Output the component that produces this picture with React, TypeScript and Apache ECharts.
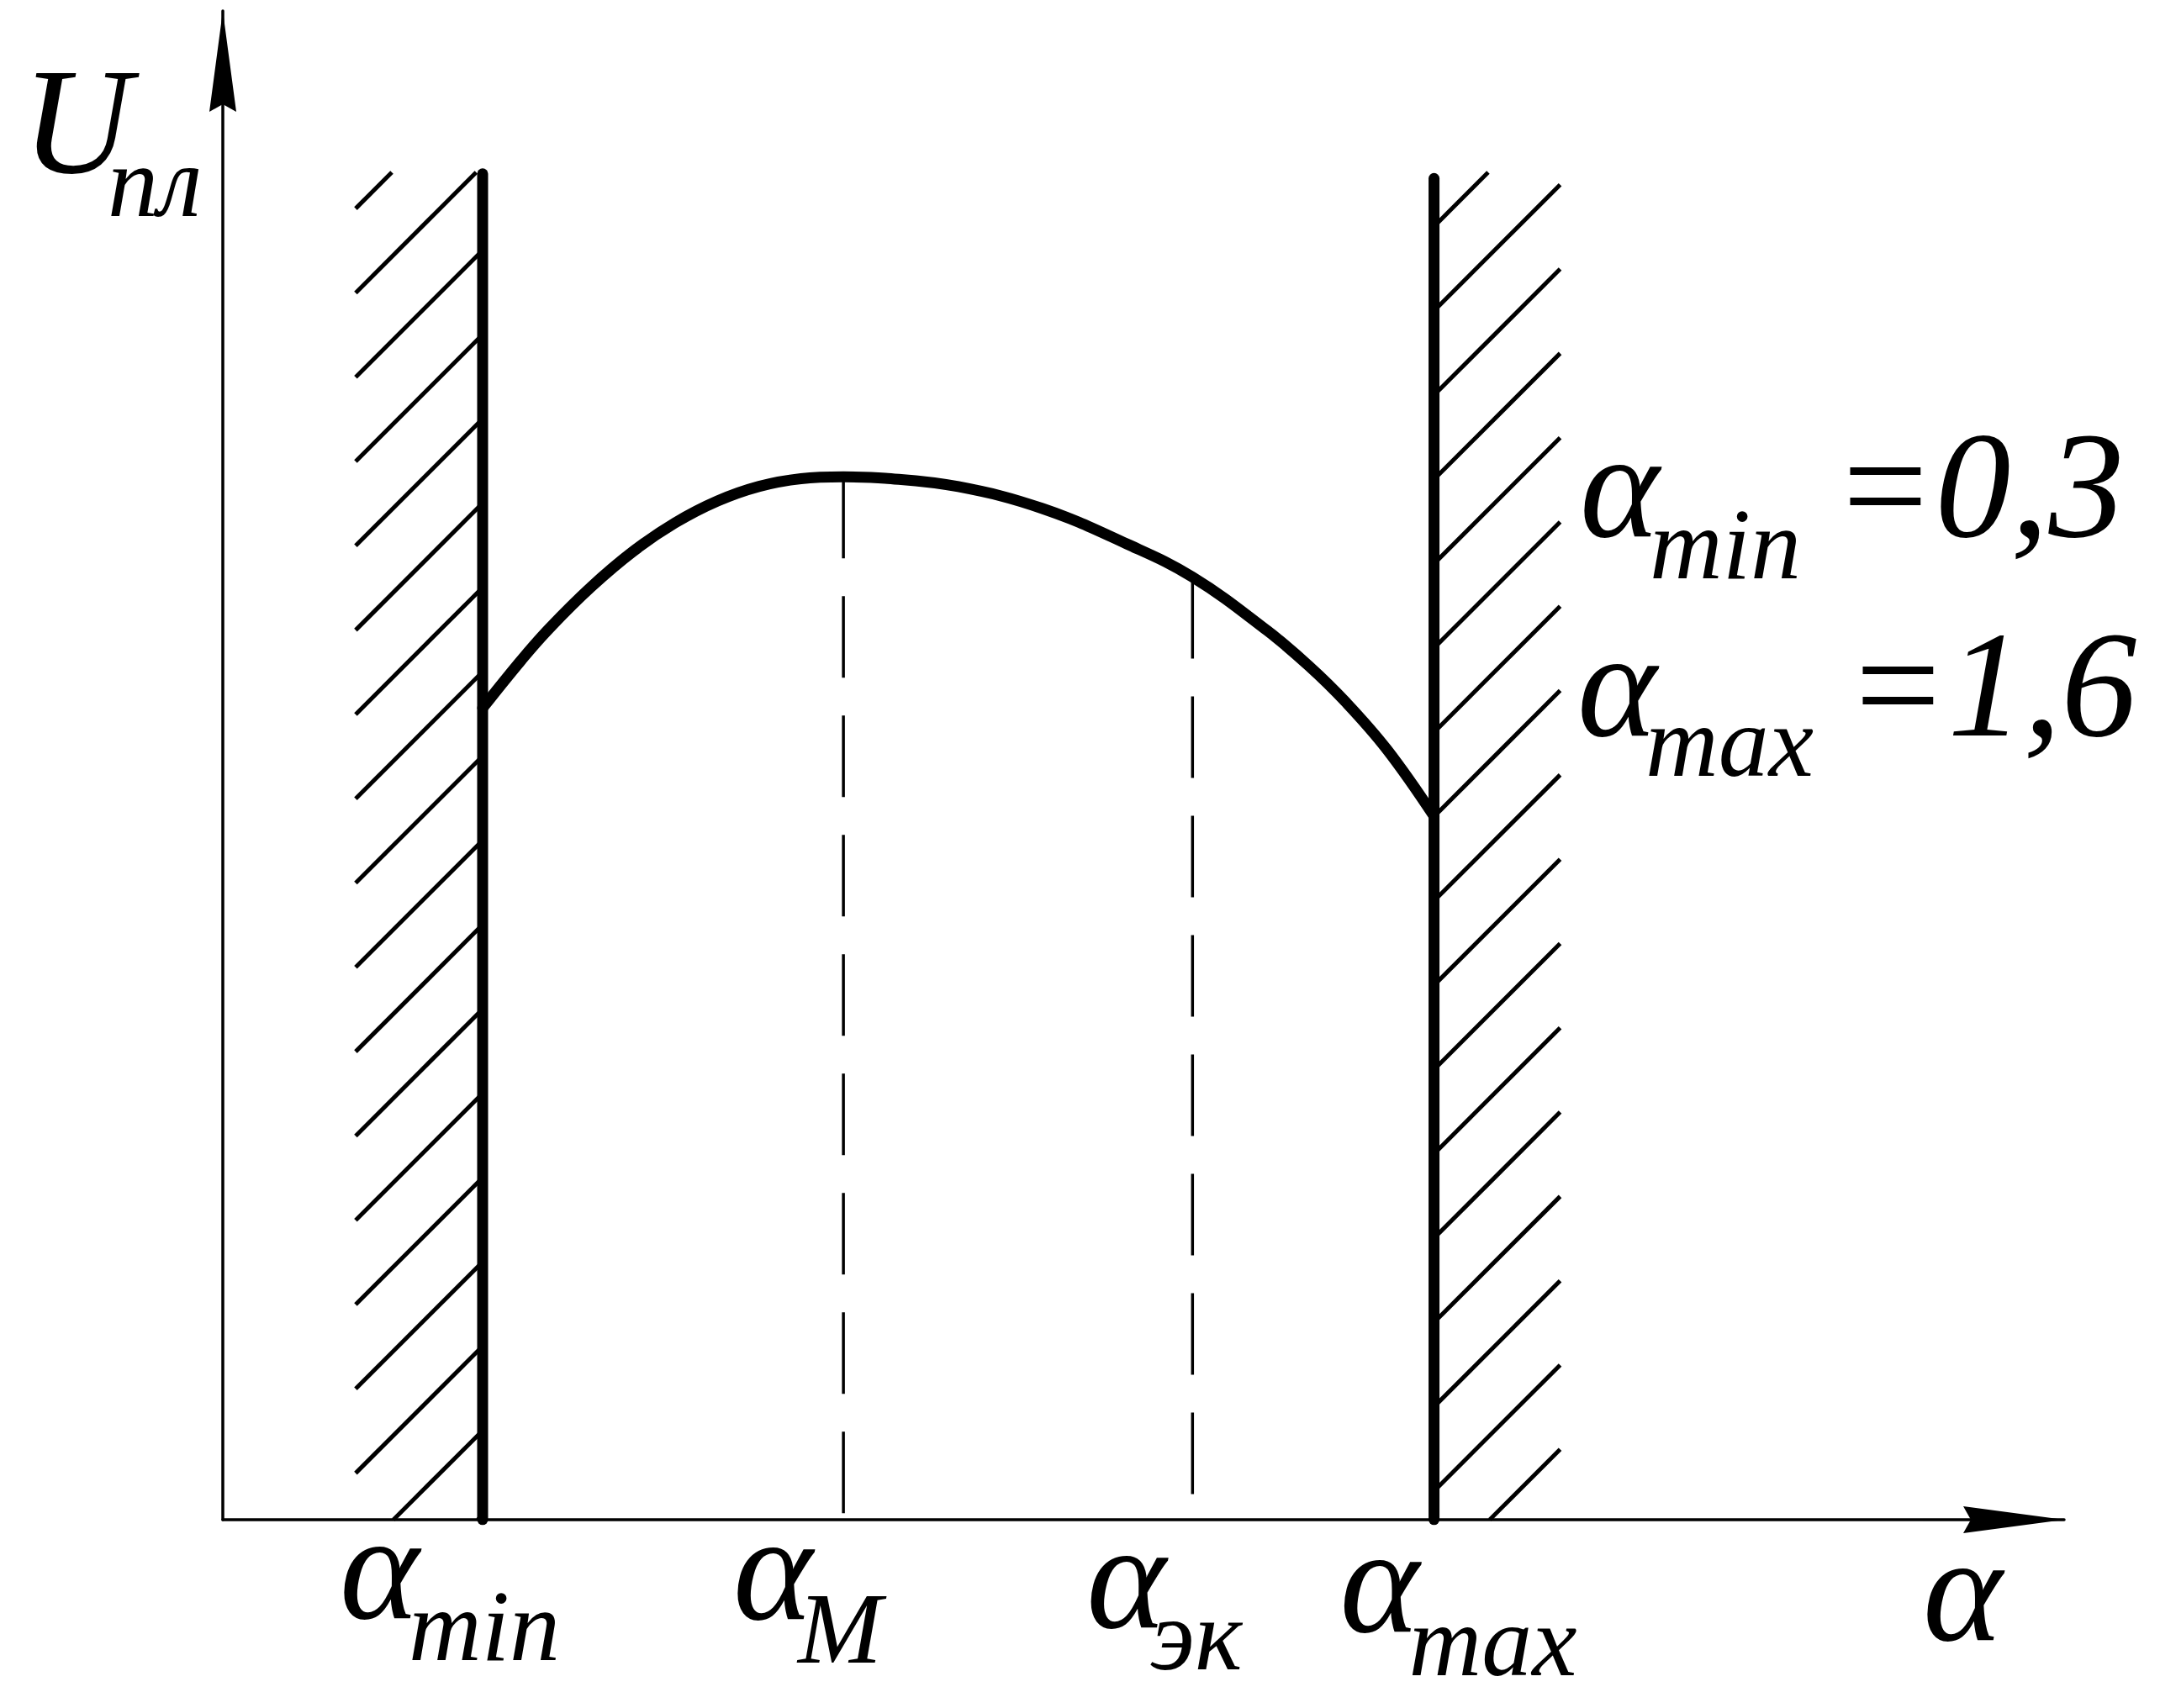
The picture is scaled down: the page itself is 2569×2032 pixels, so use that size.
import React, { useEffect, useRef } from "react";
import * as echarts from "echarts";

// ---------- data ----------
// α values along the curve U_пл(α) and the matching U_пл values (relative units)
const alphaCurve = [0.3, 0.353, 0.391, 0.448, 0.506, 0.563, 0.621, 0.678, 0.735, 0.793, 0.85, 0.95, 1.065, 1.18, 1.27, 1.372, 1.429, 1.479, 1.536, 1.6];
const uCurve = [0.538, 0.5698, 0.5907, 0.6181, 0.6419, 0.6607, 0.6752, 0.6849, 0.69, 0.6912, 0.6903, 0.6847, 0.6702, 0.6468, 0.6248, 0.5893, 0.5659, 0.5421, 0.5103, 0.4663];

// characteristic α values
const alphaMin = 0.3;
const alphaMax = 1.6;
const alphaM = 0.793;
const alphaEk = 1.27;

// heights of the two limit lines
const limitTops = [0.892, 0.889];
// hatched forbidden zones: [α from, α to, top]
const hatchZones = [
  [0.1265, 0.3, 0.893],
  [1.6, 1.7723, 0.893],
];

// axis ranges
const X_MIN = -0.055;
const X_MAX = 2.461;
const Y_MIN = 0;
const Y_MAX = 1;

// tick labels under the α axis
const tickMain = ["α", "α", "α", "α"];
const tickSub = ["min", "M", "эк", "max"];
const tickValues = [alphaMin, alphaM, alphaEk, alphaMax];

// annotation
const noteSub = ["min", "max"];
const noteValue = ["=0,3", "=1,6"];

// ---------- layout / style ----------
const W = 2569;
const H = 2032;
const FAMILY = "Liberation Serif";
const MAIN_FS = 180;
const SUB_FS = 120;
const HATCH_STEP = 100.3;
const HATCH_PHASE = 69.3;
// pixel offsets of tick labels relative to their tick
const tickMainDx = [-170, -131, -126, -112];
const tickMainBase = [1925, 1926, 1936, 1941];
const tickSubDx = [-88, -54, -50, -30];
const tickSubBase = [1975, 1978, 1986, 1993];

// a text placed by its left edge and its baseline
function txt(text: string, left: number, baseline: number, fs: number) {
  return {
    text,
    left,
    top: baseline - 0.8375 * fs,
    padding: 0,
    itemGap: 0,
    textStyle: {
      fontFamily: FAMILY,
      fontStyle: "italic",
      fontWeight: "normal",
      fontSize: fs,
      lineHeight: fs,
      color: "#000",
    },
  };
}

function hatchRender(params: any, api: any) {
  const x0 = api.value(0);
  const x1 = api.value(1);
  const top = api.value(2);
  const pBL = api.coord([x0, 0]);
  const pTR = api.coord([x1, top]);
  const L = pBL[0];
  const R = pTR[0];
  const T = pTR[1];
  const B = pBL[1];
  const children: any[] = [];
  const cStart = Math.ceil((L + T - HATCH_PHASE) / HATCH_STEP) * HATCH_STEP + HATCH_PHASE;
  for (let c = cStart; c <= R + B; c += HATCH_STEP) {
    const xa = Math.max(L, c - B);
    const xb = Math.min(R, c - T);
    if (xb - xa < 1) continue;
    children.push({
      type: "line",
      shape: { x1: xa, y1: c - xa, x2: xb, y2: c - xb },
      style: { stroke: "#000", lineWidth: 5 },
    });
  }
  return { type: "group", children };
}

export default function App() {
  const ref = useRef<HTMLDivElement>(null);
  useEffect(() => {
    document.body.style.margin = "0";
    const chart = echarts.init(ref.current!, null, { renderer: "svg" });
    const arrow = "path://M16,0 L32,120 L16,111 L0,120 Z";
    const axisLine = {
      show: true,
      onZero: false,
      lineStyle: { color: "#000", width: 3.5 },
      symbol: ["none", arrow],
      symbolSize: [33, 120],
      symbolOffset: [0, -60],
    };
    const hidden = {
      axisTick: { show: false },
      axisLabel: { show: false },
      splitLine: { show: false },
    };
    const curve = alphaCurve.map((a, i) => [a, uCurve[i]]);
    const uAt = (a: number) => uCurve[alphaCurve.indexOf(a)];
    const option: any = {
      animation: false,
      backgroundColor: "#fff",
      grid: { left: 265, right: W - 2455, top: 13, bottom: H - 1808, containLabel: false },
      xAxis: { type: "value", min: X_MIN, max: X_MAX, axisLine, ...hidden },
      yAxis: { type: "value", min: Y_MIN, max: Y_MAX, axisLine, ...hidden },
      series: [
        {
          type: "custom",
          renderItem: hatchRender,
          data: hatchZones,
          encode: { x: [0, 1], y: 2 },
          clip: false,
          silent: true,
          z: 1,
        },
        {
          type: "line",
          data: [[alphaM, uAt(alphaM)], [alphaM, 0]],
          symbol: "none",
          silent: true,
          lineStyle: { color: "#000", width: 3.5, type: [97, 45] },
          z: 2,
        },
        {
          type: "line",
          data: [[alphaEk, uAt(alphaEk)], [alphaEk, 0]],
          symbol: "none",
          silent: true,
          lineStyle: { color: "#000", width: 3.5, type: [97, 45] },
          z: 2,
        },
        {
          type: "line",
          data: curve,
          smooth: 0.4,
          symbol: "none",
          silent: true,
          lineStyle: { color: "#000", width: 13, cap: "round", join: "round" },
          z: 4,
        },
        {
          type: "line",
          data: [[alphaMin, 0], [alphaMin, limitTops[0]]],
          symbol: "none",
          silent: true,
          lineStyle: { color: "#000", width: 13, cap: "round" },
          z: 5,
        },
        {
          type: "line",
          data: [[alphaMax, 0], [alphaMax, limitTops[1]]],
          symbol: "none",
          silent: true,
          lineStyle: { color: "#000", width: 13, cap: "round" },
          z: 5,
        },
      ],
    };
    chart.setOption(option);

    const titles: any[] = [];
    tickValues.forEach((v, i) => {
      const px = chart.convertToPixel({ xAxisIndex: 0 }, v) as number;
      titles.push(txt(tickMain[i], px + tickMainDx[i], tickMainBase[i], MAIN_FS));
      titles.push(txt(tickSub[i], px + tickSubDx[i], tickSubBase[i], SUB_FS));
    });
    // axis names
    titles.push(txt("U", 26, 205, MAIN_FS));
    titles.push(txt("пл", 128, 257, SUB_FS));
    titles.push(txt("α", 2287, 1951, MAIN_FS));
    // annotation
    titles.push(txt("α", 1879, 638, MAIN_FS));
    titles.push(txt(noteSub[0], 1962, 688, SUB_FS));
    titles.push(txt(noteValue[0], 2180, 638, MAIN_FS));
    titles.push(txt("α", 1876, 875, MAIN_FS));
    titles.push(txt(noteSub[1], 1957, 923, SUB_FS));
    titles.push(txt(noteValue[1], 2195, 875, MAIN_FS));
    chart.setOption({ ...option, title: titles }, true);

    return () => chart.dispose();
  }, []);
  return <div ref={ref} style={{ width: W, height: H }} />;
}
